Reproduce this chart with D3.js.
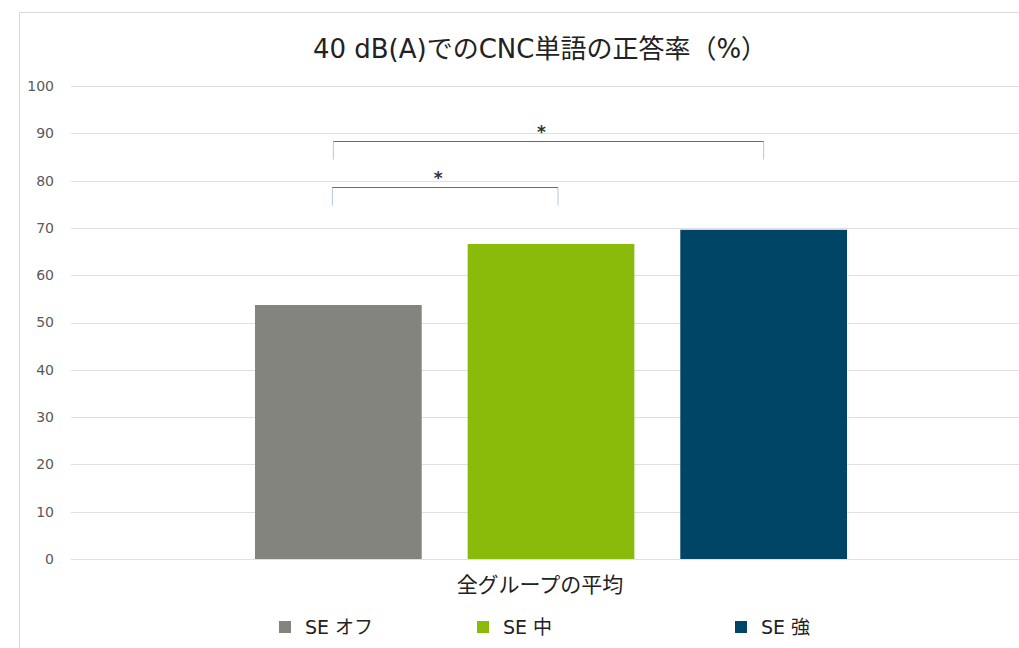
<!DOCTYPE html>
<html>
<head>
<meta charset="utf-8">
<script src="https://cdn.jsdelivr.net/npm/d3@7"></script>
<style>
  body { margin: 0; background: #fff; }
  svg { display: block; }
  text { font-family: "DejaVu Sans", "Noto Sans CJK JP", sans-serif; }
</style>
</head>
<body>
<script>
var width = 1019, height = 648;

// data
var categories = ["全グループの平均"];
var series = ["SE オフ", "SE 中", "SE 強"];
var values = [53.7, 66.6, 69.6];
var colors = ["#84847f", "#8bbb0a", "#004565"];
var yTicks = [0, 10, 20, 30, 40, 50, 60, 70, 80, 90, 100];
// significance brackets: [from series, to series, bracket level]
var brackets = [[0, 1, 78.6], [0, 2, 88.4]];

var svg = d3.select("body")
            .append("svg")
            .attr("width", width)
            .attr("height", height);

// chart border (cropped on the right and bottom)
svg.append("path")
   .attr("d", "M19.5,648V12.5H1019")
   .attr("fill", "none")
   .attr("stroke", "#d9d9d9");

var plotLeft = 71, plotRight = 1031;

var y = d3.scaleLinear()
          .domain([0, 100])
          .range([559, 86]);

var x0 = d3.scaleBand()
           .domain(categories)
           .range([plotLeft, plotRight]);

var groupW = 592;
var x1 = d3.scaleBand()
           .domain(series)
           .range([x0(categories[0]) + x0.bandwidth() / 2 - groupW / 2, x0(categories[0]) + x0.bandwidth() / 2 + groupW / 2])
           .paddingInner(0.216)
           .paddingOuter(0);

// gridlines
svg.append("g")
   .selectAll("line")
   .data(yTicks)
   .enter()
   .append("line")
   .attr("x1", plotLeft)
   .attr("x2", plotRight)
   .attr("y1", function(d) { return Math.round(y(d)) + 0.5; })
   .attr("y2", function(d) { return Math.round(y(d)) + 0.5; })
   .attr("stroke", "#e0e0e0")
   .attr("stroke-width", 1);

// y tick labels
svg.append("g")
   .selectAll("text")
   .data(yTicks)
   .enter()
   .append("text")
   .attr("x", 54)
   .attr("y", function(d) { return y(d); })
   .attr("dy", "0.35em")
   .attr("text-anchor", "end")
   .attr("font-size", "14px")
   .attr("fill", "#595959")
   .text(function(d) { return d; });

// bars
svg.append("g")
   .selectAll("rect")
   .data(values)
   .enter()
   .append("rect")
   .attr("x", function(d, i) { return x1(series[i]); })
   .attr("y", function(d) { return y(d); })
   .attr("width", x1.bandwidth())
   .attr("height", function(d) { return y(0) - y(d); })
   .attr("fill", function(d, i) { return colors[i]; });

// significance brackets
var center = function(i) { return x1(series[i]) + x1.bandwidth() / 2; };
var bg = svg.append("g");
brackets.forEach(function(b, k) {
  var xa = center(b[0]) - 6 + k, xb = center(b[1]) + 7 - 7 * k;
  var yt = Math.round(y(b[2])) + 0.5, yb = yt + 18;
  bg.append("path")
    .attr("d", "M" + xa + "," + yb + "V" + yt)
    .attr("stroke", "#b4c7e7").attr("fill", "none");
  bg.append("path")
    .attr("d", "M" + xb + "," + yt + "V" + yb)
    .attr("stroke", "#b4c7e7").attr("fill", "none");
  bg.append("path")
    .attr("d", "M" + xa + "," + yt + "H" + xb)
    .attr("stroke", "#6b6b6b").attr("fill", "none");
  bg.append("text")
    .attr("x", (xa + xb) / 2 - 7)
    .attr("y", yt - 4)
    .attr("text-anchor", "middle")
    .attr("font-size", "17px")
    .attr("font-weight", "bold")
    .attr("fill", "#333")
    .text("*");
});

// title
svg.append("text")
   .attr("x", 540)
   .attr("y", 58)
   .attr("text-anchor", "middle")
   .attr("font-size", "26px")
   .attr("fill", "#222")
   .text("40 dB(A)でのCNC単語の正答率（%）");

// category label
svg.append("text")
   .attr("x", 540)
   .attr("y", 592)
   .attr("text-anchor", "middle")
   .attr("font-size", "21px")
   .attr("fill", "#222")
   .text(categories[0]);

// legend
var legendX = [279, 477, 735];
var legend = svg.append("g")
                .selectAll("g")
                .data(series)
                .enter()
                .append("g")
                .attr("transform", function(d, i) { return "translate(" + legendX[i] + ",621)"; });

legend.append("rect")
      .attr("width", 12)
      .attr("height", 12)
      .attr("fill", function(d, i) { return colors[i]; });

legend.append("text")
      .attr("x", 26)
      .attr("y", 6)
      .attr("dy", "0.35em")
      .attr("font-size", "19px")
      .attr("fill", "#222")
      .text(function(d) { return d; });
</script>
</body>
</html>
